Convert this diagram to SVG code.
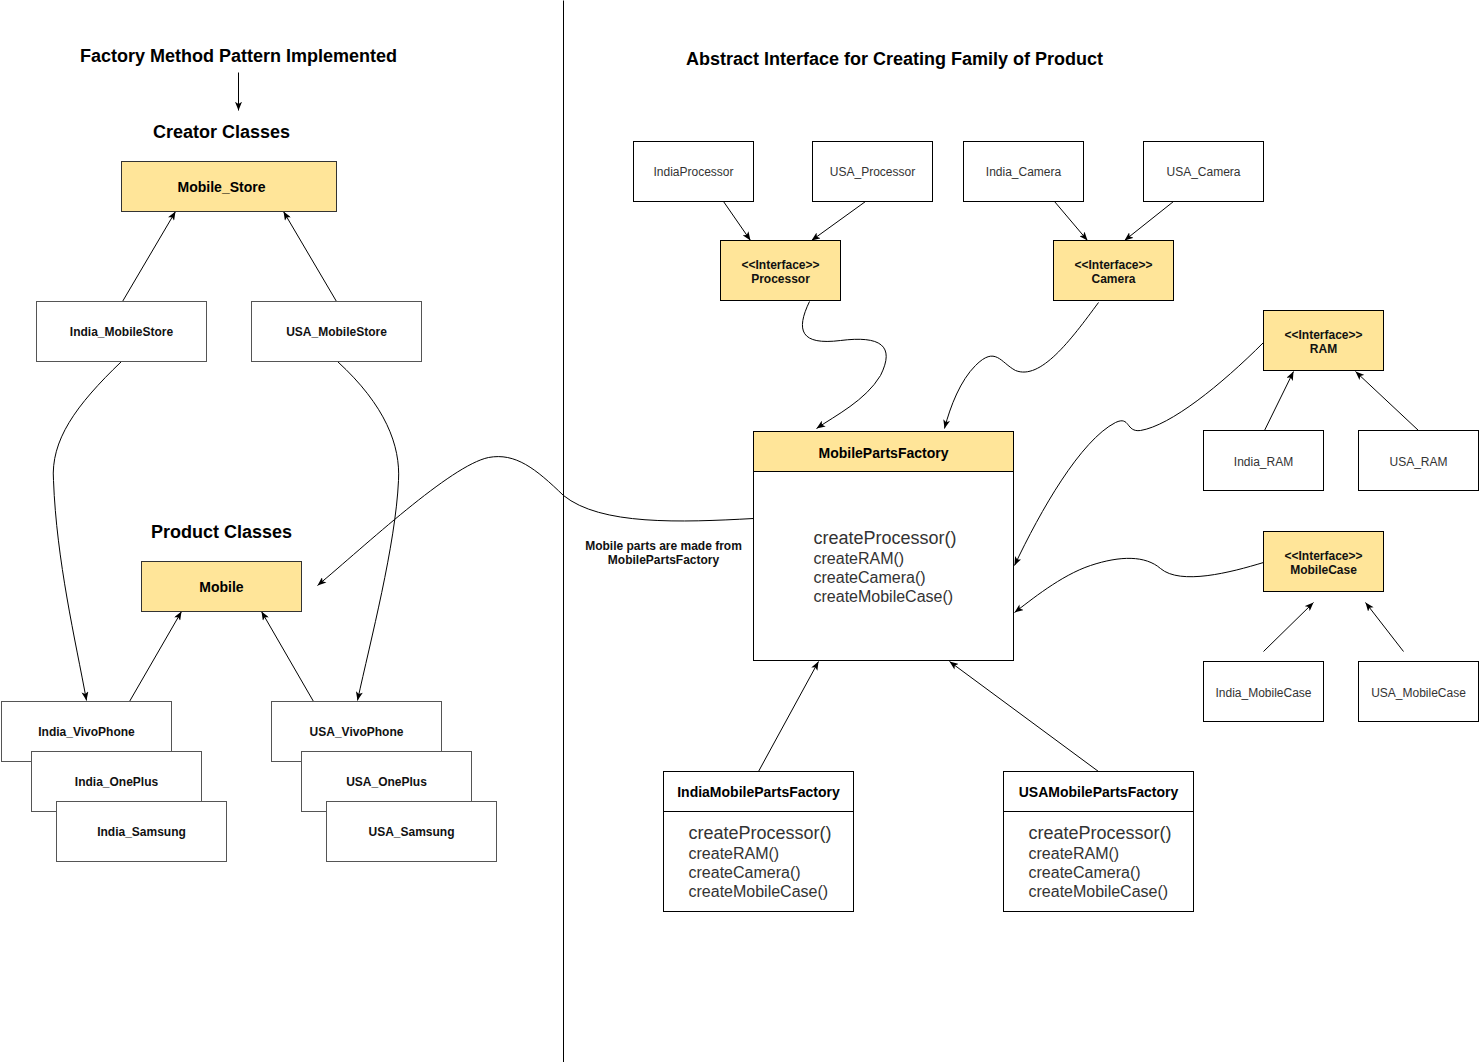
<svg xmlns="http://www.w3.org/2000/svg" width="1479" height="1062" viewBox="0 0 1479 1062">
<defs>
<marker id="arr" viewBox="0 0 10 8" refX="10" refY="4" markerWidth="9" markerHeight="7" orient="auto" markerUnits="userSpaceOnUse"><path d="M0,0 L10,4 L0,8 L2.5,4 z" fill="#000"/></marker>
<style>
text{font-family:"Liberation Sans",Arial,sans-serif;}
.title{font-size:18px;font-weight:bold;fill:#000;}
.y{fill:#FFE599;stroke:#333;stroke-width:1;}
.w{fill:#fff;stroke:#555;stroke-width:1;}
.wk{fill:#fff;stroke:#000;stroke-width:1;}
.lb{font-size:12px;font-weight:bold;fill:#111;text-anchor:middle;dominant-baseline:central;}
.lr{font-size:12px;fill:#333;text-anchor:middle;dominant-baseline:central;}
.hd{font-size:14px;font-weight:bold;fill:#000;text-anchor:middle;dominant-baseline:central;}
.m1{font-size:18px;fill:#333;}
.m2{font-size:16px;fill:#333;}
.c{fill:none;stroke:#000;stroke-width:1;marker-end:url(#arr);}
.p{fill:none;stroke:#000;stroke-width:1;}
</style>
</defs>
<rect x="0" y="0" width="1479" height="1062" fill="#fff"/>
<g transform="translate(0.5,0.5)">
<g id="titles">
<text class="title" x="238" y="61" text-anchor="middle">Factory Method Pattern Implemented</text>
<text class="title" x="221" y="137" text-anchor="middle">Creator Classes</text>
<text class="title" x="221" y="537" text-anchor="middle">Product Classes</text>
<text class="title" x="894" y="64" text-anchor="middle">Abstract Interface for Creating Family of Product</text>
<text class="lb" x="663" y="545">Mobile parts are made from</text>
<text class="lb" x="663" y="559">MobilePartsFactory</text>
</g>

<g id="connectors">
<line class="p" x1="563" y1="0" x2="563" y2="1062"/>
<line class="c" x1="238" y1="72" x2="238" y2="110"/>
<line class="c" x1="122" y1="301" x2="175" y2="211"/>
<line class="c" x1="336" y1="301" x2="283" y2="211"/>
<line class="c" x1="129" y1="701" x2="181" y2="611"/>
<line class="c" x1="313" y1="701" x2="261" y2="611"/>
<path class="c" d="M121 361 C 75 405, 50 440, 53 480 C 56 560, 75 640, 86 700"/>
<path class="c" d="M337 361 C 385 405, 400 445, 398 480 C 395 545, 370 640, 357 700"/>
<path class="c" d="M753 518 C 680 522, 600 525, 563 495 C 535 468, 515 452, 488 457 C 450 465, 365 545, 317 585"/>
<line class="c" x1="723" y1="201" x2="750" y2="240"/>
<line class="c" x1="865" y1="201" x2="811" y2="240"/>
<line class="c" x1="1054" y1="201" x2="1087" y2="240"/>
<line class="c" x1="1173" y1="201" x2="1124" y2="240"/>
<line class="c" x1="1264" y1="430" x2="1293" y2="371"/>
<line class="c" x1="1418" y1="430" x2="1355" y2="371"/>
<line class="c" x1="1263" y1="651" x2="1313" y2="602"/>
<line class="c" x1="1403" y1="651" x2="1365" y2="602"/>
<line class="c" x1="758" y1="771" x2="818" y2="661"/>
<line class="c" x1="1098" y1="771" x2="949" y2="661"/>
<path class="c" d="M809 301 C 795 330, 800 345, 840 340 C 880 335, 895 345, 880 375 C 865 400, 835 415, 816 428"/>
<path class="c" d="M1098 302 C 1070 340, 1040 380, 1015 370 C 1000 362, 995 345, 975 365 C 960 380, 950 405, 944 428"/>
<path class="c" d="M1263 342 C 1220 385, 1170 425, 1140 430 C 1125 432, 1130 415, 1115 422 C 1080 440, 1040 510, 1014 565"/>
<path class="c" d="M1263 562 C 1230 572, 1180 585, 1160 568 C 1145 555, 1120 555, 1090 565 C 1060 575, 1030 600, 1014 612"/>
</g>

<g id="Mobile_Store"><rect class="y" x="121" y="161" width="215" height="50"/><text class="hd" x="221" y="186">Mobile_Store</text></g>
<g id="India_MobileStore"><rect class="w" x="36" y="301" width="170" height="60"/><text class="lb" x="121" y="331">India_MobileStore</text></g>
<g id="USA_MobileStore"><rect class="w" x="251" y="301" width="170" height="60"/><text class="lb" x="336" y="331">USA_MobileStore</text></g>
<g id="Mobile"><rect class="y" x="141" y="561" width="160" height="50"/><text class="hd" x="221" y="586">Mobile</text></g>
<g id="India_VivoPhone"><rect class="w" x="1" y="701" width="170" height="60"/><text class="lb" x="86" y="731">India_VivoPhone</text></g>
<g id="India_OnePlus"><rect class="w" x="31" y="751" width="170" height="60"/><text class="lb" x="116" y="781">India_OnePlus</text></g>
<g id="India_Samsung"><rect class="w" x="56" y="801" width="170" height="60"/><text class="lb" x="141" y="831">India_Samsung</text></g>
<g id="USA_VivoPhone"><rect class="w" x="271" y="701" width="170" height="60"/><text class="lb" x="356" y="731">USA_VivoPhone</text></g>
<g id="USA_OnePlus"><rect class="w" x="301" y="751" width="170" height="60"/><text class="lb" x="386" y="781">USA_OnePlus</text></g>
<g id="USA_Samsung"><rect class="w" x="326" y="801" width="170" height="60"/><text class="lb" x="411" y="831">USA_Samsung</text></g>

<g id="IndiaProcessor"><rect class="wk" x="633" y="141" width="120" height="60"/><text class="lr" x="693" y="171">IndiaProcessor</text></g>
<g id="USA_Processor"><rect class="wk" x="812" y="141" width="120" height="60"/><text class="lr" x="872" y="171">USA_Processor</text></g>
<g id="India_Camera"><rect class="wk" x="963" y="141" width="120" height="60"/><text class="lr" x="1023" y="171">India_Camera</text></g>
<g id="USA_Camera"><rect class="wk" x="1143" y="141" width="120" height="60"/><text class="lr" x="1203" y="171">USA_Camera</text></g>
<g id="Processor"><rect class="y" x="720" y="240" width="120" height="60" style="stroke:#000"/><text class="lb" x="780" y="264">&lt;&lt;Interface&gt;&gt;</text><text class="lb" x="780" y="278">Processor</text></g>
<g id="Camera"><rect class="y" x="1053" y="240" width="120" height="60" style="stroke:#000"/><text class="lb" x="1113" y="264">&lt;&lt;Interface&gt;&gt;</text><text class="lb" x="1113" y="278">Camera</text></g>
<g id="RAM"><rect class="y" x="1263" y="310" width="120" height="60" style="stroke:#000"/><text class="lb" x="1323" y="334">&lt;&lt;Interface&gt;&gt;</text><text class="lb" x="1323" y="348">RAM</text></g>
<g id="India_RAM"><rect class="wk" x="1203" y="430" width="120" height="60"/><text class="lr" x="1263" y="461">India_RAM</text></g>
<g id="USA_RAM"><rect class="wk" x="1358" y="430" width="120" height="60"/><text class="lr" x="1418" y="461">USA_RAM</text></g>
<g id="MobileCase"><rect class="y" x="1263" y="531" width="120" height="60" style="stroke:#000"/><text class="lb" x="1323" y="555">&lt;&lt;Interface&gt;&gt;</text><text class="lb" x="1323" y="569">MobileCase</text></g>
<g id="India_MobileCase"><rect class="wk" x="1203" y="661" width="120" height="60"/><text class="lr" x="1263" y="692">India_MobileCase</text></g>
<g id="USA_MobileCase"><rect class="wk" x="1358" y="661" width="120" height="60"/><text class="lr" x="1418" y="692">USA_MobileCase</text></g>

<g id="MobilePartsFactory">
<rect class="wk" x="753" y="431" width="260" height="229"/>
<rect class="y" x="753" y="431" width="260" height="40" style="stroke:#000"/>
<text class="hd" x="883" y="452">MobilePartsFactory</text>
<text class="m1" x="813" y="543">createProcessor()</text>
<text class="m2" x="813" y="563">createRAM()</text>
<text class="m2" x="813" y="582">createCamera()</text>
<text class="m2" x="813" y="601">createMobileCase()</text>
</g>
<g id="IndiaMobilePartsFactory">
<rect class="wk" x="663" y="771" width="190" height="140"/>
<line x1="663" y1="811" x2="853" y2="811" stroke="#000"/>
<text class="hd" x="758" y="791">IndiaMobilePartsFactory</text>
<text class="m1" x="688" y="838">createProcessor()</text>
<text class="m2" x="688" y="858">createRAM()</text>
<text class="m2" x="688" y="877">createCamera()</text>
<text class="m2" x="688" y="896">createMobileCase()</text>
</g>
<g id="USAMobilePartsFactory">
<rect class="wk" x="1003" y="771" width="190" height="140"/>
<line x1="1003" y1="811" x2="1193" y2="811" stroke="#000"/>
<text class="hd" x="1098" y="791">USAMobilePartsFactory</text>
<text class="m1" x="1028" y="838">createProcessor()</text>
<text class="m2" x="1028" y="858">createRAM()</text>
<text class="m2" x="1028" y="877">createCamera()</text>
<text class="m2" x="1028" y="896">createMobileCase()</text>
</g>
</g>
</svg>
